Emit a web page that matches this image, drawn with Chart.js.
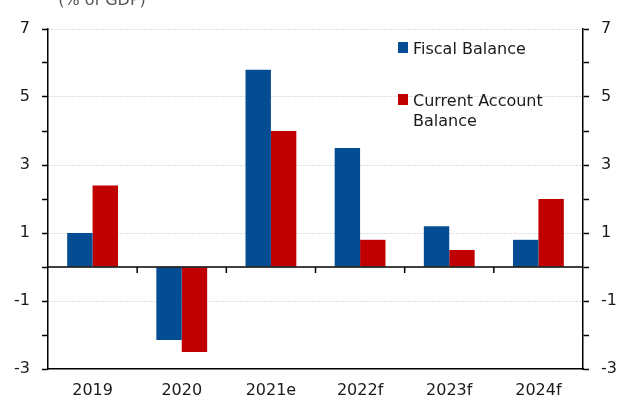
<!DOCTYPE html>
<html><head><meta charset="utf-8">
<script src="https://cdn.jsdelivr.net/npm/chart.js@4.4.0/dist/chart.umd.min.js"></script>
<style>html,body{margin:0;padding:0;background:#fff;overflow:hidden}</style>
</head><body>
<canvas id="c" width="620" height="399"></canvas>
<script>
const categories = ['2019', '2020', '2021e', '2022f', '2023f', '2024f'];
const fiscalBalance = [1.0, -2.15, 5.8, 3.5, 1.2, 0.8];
const currentAccountBalance = [2.4, -2.5, 4.0, 0.8, 0.5, 2.0];
const seriesNames = ['Fiscal Balance', 'Current Account Balance'];
const yLabeledTicks = [7, 5, 3, 1, -1, -3];
const unitLabel = '(% of GDP)';

const FONT = "'DejaVu Sans', sans-serif";
const TEXT = '#1a1a1a';
const BLUE = '#044d92';
const RED = '#c00000';

const overlay = {
  id: 'overlay',
  afterDatasetsDraw(chart) {
    const ctx = chart.ctx, ca = chart.chartArea;
    const x = chart.scales.x, y = chart.scales.y;
    const y0 = y.getPixelForValue(0);
    ctx.save();
    ctx.strokeStyle = '#000';
    ctx.lineWidth = 1.5;
    ctx.beginPath();
    ctx.moveTo(ca.left, y0);
    ctx.lineTo(ca.right, y0);
    ctx.stroke();
    for (let i = 0; i < categories.length - 1; i++) {
      const bx = (x.getPixelForValue(i) + x.getPixelForValue(i + 1)) / 2;
      ctx.beginPath();
      ctx.moveTo(bx, y0);
      ctx.lineTo(bx, y0 + 6);
      ctx.stroke();
    }
    ctx.restore();
  },
  afterDraw(chart) {
    const ctx = chart.ctx;
    ctx.save();
    ctx.fillStyle = '#555';
    ctx.font = '16px ' + FONT;
    ctx.textAlign = 'center';
    ctx.textBaseline = 'alphabetic';
    ctx.fillText(unitLabel, 102, 5);
    ctx.textAlign = 'left';
    const tops = [42, 94];
    chart.data.datasets.forEach((ds, i) => {
      ctx.fillStyle = ds.backgroundColor;
      ctx.fillRect(398, tops[i], 10, 11);
      ctx.fillStyle = TEXT;
      const words = ds.label.split(' ');
      const lines = [];
      let cur = '';
      words.forEach(w => {
        const t = cur ? cur + ' ' + w : w;
        if (ctx.measureText(t).width > 130 && cur) { lines.push(cur); cur = w; }
        else cur = t;
      });
      lines.push(cur);
      lines.forEach((ln, j) => ctx.fillText(ln, 413, tops[i] + 12 + j * 19.5));
    });
    ctx.restore();
  }
};

const gridColor = (c) => {
  const v = c.tick ? c.tick.value : null;
  return (v !== null && yLabeledTicks.includes(v) && v !== -3) ? '#bdbdbd' : 'rgba(0,0,0,0)';
};
const tickCb = (v) => yLabeledTicks.includes(v) ? String(v) : '';

new Chart(document.getElementById('c'), {
  type: 'bar',
  data: {
    labels: categories,
    datasets: [
      { label: seriesNames[0], data: fiscalBalance, backgroundColor: BLUE, borderWidth: 0, yAxisID: 'y' },
      { label: seriesNames[1], data: currentAccountBalance, backgroundColor: RED, borderWidth: 0, yAxisID: 'y' }
    ]
  },
  options: {
    responsive: false,
    animation: false,
    devicePixelRatio: 1,
    layout: { padding: { top: 29, left: 0, right: 0, bottom: 0 } },
    datasets: { bar: { categoryPercentage: 0.57, barPercentage: 1.0 } },
    plugins: { legend: { display: false }, tooltip: { enabled: false }, title: { display: false } },
    scales: {
      x: {
        type: 'category',
        offset: true,
        grid: { display: false, drawTicks: false },
        border: { display: true, color: '#000', width: 1.5 },
        ticks: { color: TEXT, font: { family: FONT, size: 16 }, padding: 12, maxRotation: 0, autoSkip: false },
        afterFit(s) { s.height = 30; }
      },
      y: {
        position: 'left',
        min: -3, max: 7,
        ticks: { stepSize: 1, autoSkip: false, callback: tickCb, color: TEXT, font: { family: FONT, size: 16 }, padding: 12 },
        grid: { color: gridColor, lineWidth: 1, tickColor: '#000', tickLength: 6, tickWidth: 1.5, tickBorderDash: [] },
        border: { display: true, color: '#000', width: 1.5, dash: [1, 2] },
        afterFit(s) { s.width = 48; }
      },
      y2: {
        position: 'right',
        min: -3, max: 7,
        ticks: { stepSize: 1, autoSkip: false, callback: tickCb, color: TEXT, font: { family: FONT, size: 16 }, padding: 12 },
        grid: { drawOnChartArea: false, tickColor: '#000', tickLength: 6, tickWidth: 1.5 },
        border: { display: true, color: '#000', width: 1.5 },
        afterFit(s) { s.width = 37; }
      }
    }
  },
  plugins: [overlay]
});
</script>
</body></html>
